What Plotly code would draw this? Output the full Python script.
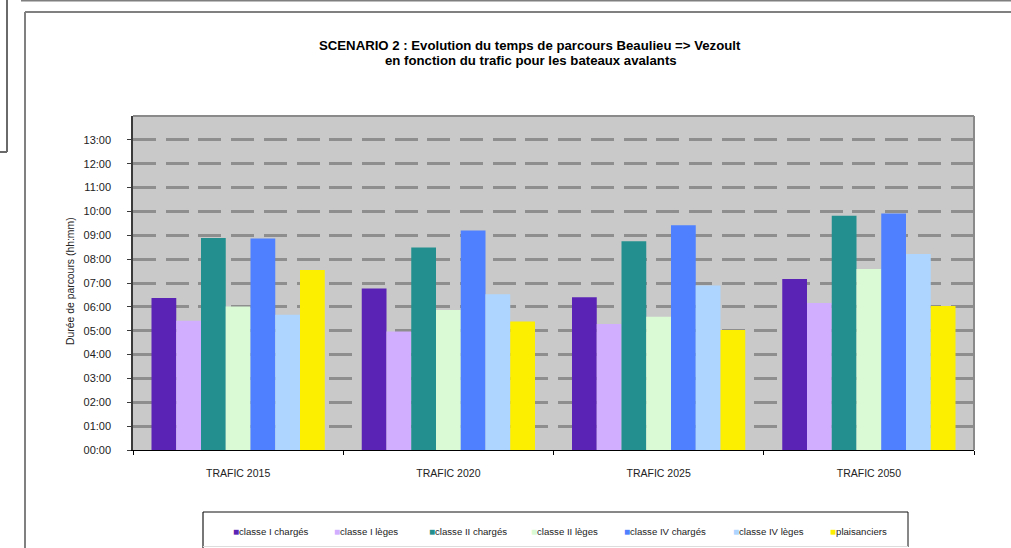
import plotly.graph_objects as go

categories = ["TRAFIC 2015", "TRAFIC 2020", "TRAFIC 2025", "TRAFIC 2050"]
series_names = ["classe I chargés", "classe I lèges", "classe II chargés", "classe II lèges",
                "classe IV chargés", "classe IV lèges", "plaisanciers"]
classe_I_charges = ["06:22", "06:46", "06:24", "07:10"]
classe_I_leges = ["05:25", "04:58", "05:17", "06:10"]
classe_II_charges = ["08:53", "08:29", "08:45", "09:49"]
classe_II_leges = ["06:01", "05:52", "05:35", "07:35"]
classe_IV_charges = ["08:52", "09:12", "09:25", "09:55"]
classe_IV_leges = ["05:40", "06:32", "06:54", "08:13"]
plaisanciers = ["07:33", "05:23", "05:02", "06:02"]
colors = ["#5A23B5", "#D1AEFF", "#23908F", "#D9FAD5", "#4E80FF", "#ADD5FF", "#FCF000"]
tick_hours = list(range(0, 14))
tick_labels = [f"{h:02d}:00" for h in tick_hours]

all_series = [classe_I_charges, classe_I_leges, classe_II_charges, classe_II_leges,
              classe_IV_charges, classe_IV_leges, plaisanciers]


def to_hours(s):
    h, m = s.split(":")
    return int(h) + int(m) / 60.0


W, H = 1011, 548
L, R, T, B = 133, 37, 116, 98
PW, PH = W - L - R, H - T - B


def px(x):
    return (x - L) / PW


def py(y):
    return (H - B - y) / PH


FONT = "Arial, 'Liberation Sans', sans-serif"

fig = go.Figure()
for name, vals, col in zip(series_names, all_series, colors):
    fig.add_trace(go.Bar(
        x=categories, y=[to_hours(v) for v in vals], name=name,
        marker=dict(color=col, line=dict(width=0)),
        customdata=vals, hovertemplate="%{x}<br>" + name + ": %{customdata}<extra></extra>",
        showlegend=False,
    ))

fig.update_layout(
    width=W, height=H,
    margin=dict(l=L, r=R, t=T, b=B),
    paper_bgcolor="white",
    plot_bgcolor="#C9C9C9",
    barmode="group", bargap=0.176, bargroupgap=0,
    font=dict(family=FONT, size=10.5, color="#222"),
    showlegend=False,
)

fig.update_yaxes(
    range=[0, 14], tickvals=tick_hours, ticktext=tick_labels,
    showgrid=True, gridcolor="#8E8E8E", gridwidth=2.5, griddash="23px,9.7px",
    zeroline=False, showline=True, linecolor="#3a3a3a", linewidth=1.5,
    ticks="outside", ticklen=4, tickcolor="#3a3a3a", ticklabelstandoff=14,
    tickfont=dict(family=FONT, size=11, color="#222"),
)
fig.update_xaxes(
    showgrid=False, showline=True, linecolor="black", linewidth=1,
    ticks="outside", ticklen=4, tickcolor="black", tickson="boundaries",
    ticklabelstandoff=13, tickfont=dict(family=FONT, size=10.5, color="#222"),
)

shapes = []


def line(x0, y0, x1, y1, color, width):
    shapes.append(dict(type="line", xref="paper", yref="paper",
                       x0=px(x0), y0=py(y0), x1=px(x1), y1=py(y1),
                       line=dict(color=color, width=width)))


# plot border (top, right)
line(133, 116, 974, 116, "#8A8A8A", 2)
line(974, 116, 974, 450, "#8A8A8A", 2)
# page frames
line(21, 0.7, 1011, 0.7, "#7F7F7F", 1.5)
line(7, 0, 7, 152, "#6A6A6A", 2)
line(0, 152, 7, 152, "#6A6A6A", 2)
line(25, 12, 25, 548, "#808080", 2)
line(25, 12, 1011, 12, "#808080", 2)
# legend box
line(203, 512, 203, 548, "#777777", 2)
line(203, 512, 908, 512, "#111111", 1)
line(908, 512, 908, 547, "#111111", 1)
line(203, 546.5, 908, 546.5, "#DDDDDD", 1)

annotations = [
    dict(
        text="<b>SCENARIO 2 : Evolution du temps de parcours Beaulieu => Vezoult</b>",
        xref="paper", yref="paper", x=px(530), y=py(45),
        xanchor="center", yanchor="middle", showarrow=False,
        font=dict(family=FONT, size=13.2, color="black"),
    ),
    dict(
        text="<b>en fonction du trafic pour les bateaux avalants</b>",
        xref="paper", yref="paper", x=px(531), y=py(61),
        xanchor="center", yanchor="middle", showarrow=False,
        font=dict(family=FONT, size=13.2, color="black"),
    ),
    dict(
        text="Durée de parcours (hh:mm)", textangle=-90,
        xref="paper", yref="paper", x=px(70), y=py(281),
        xanchor="center", yanchor="middle", showarrow=False,
        font=dict(family=FONT, size=10.4, color="#222"),
    ),
]
legend_x = [231, 332, 427, 529, 622, 731, 828]
for name, col, lx in zip(series_names, colors, legend_x):
    annotations.append(dict(
        text=f"<span style='color:{col};font-size:10px'>■</span>{name}",
        xref="paper", yref="paper", x=px(lx), y=py(531),
        xanchor="left", yanchor="middle", showarrow=False,
        font=dict(family=FONT, size=9.6, color="#222"),
    ))

fig.update_layout(shapes=shapes, annotations=annotations)
fig.write_html(
    "out.html",
    config={"displayModeBar": False},
    post_script="document.body.style.margin='0px';document.body.style.overflow='hidden';",
)
